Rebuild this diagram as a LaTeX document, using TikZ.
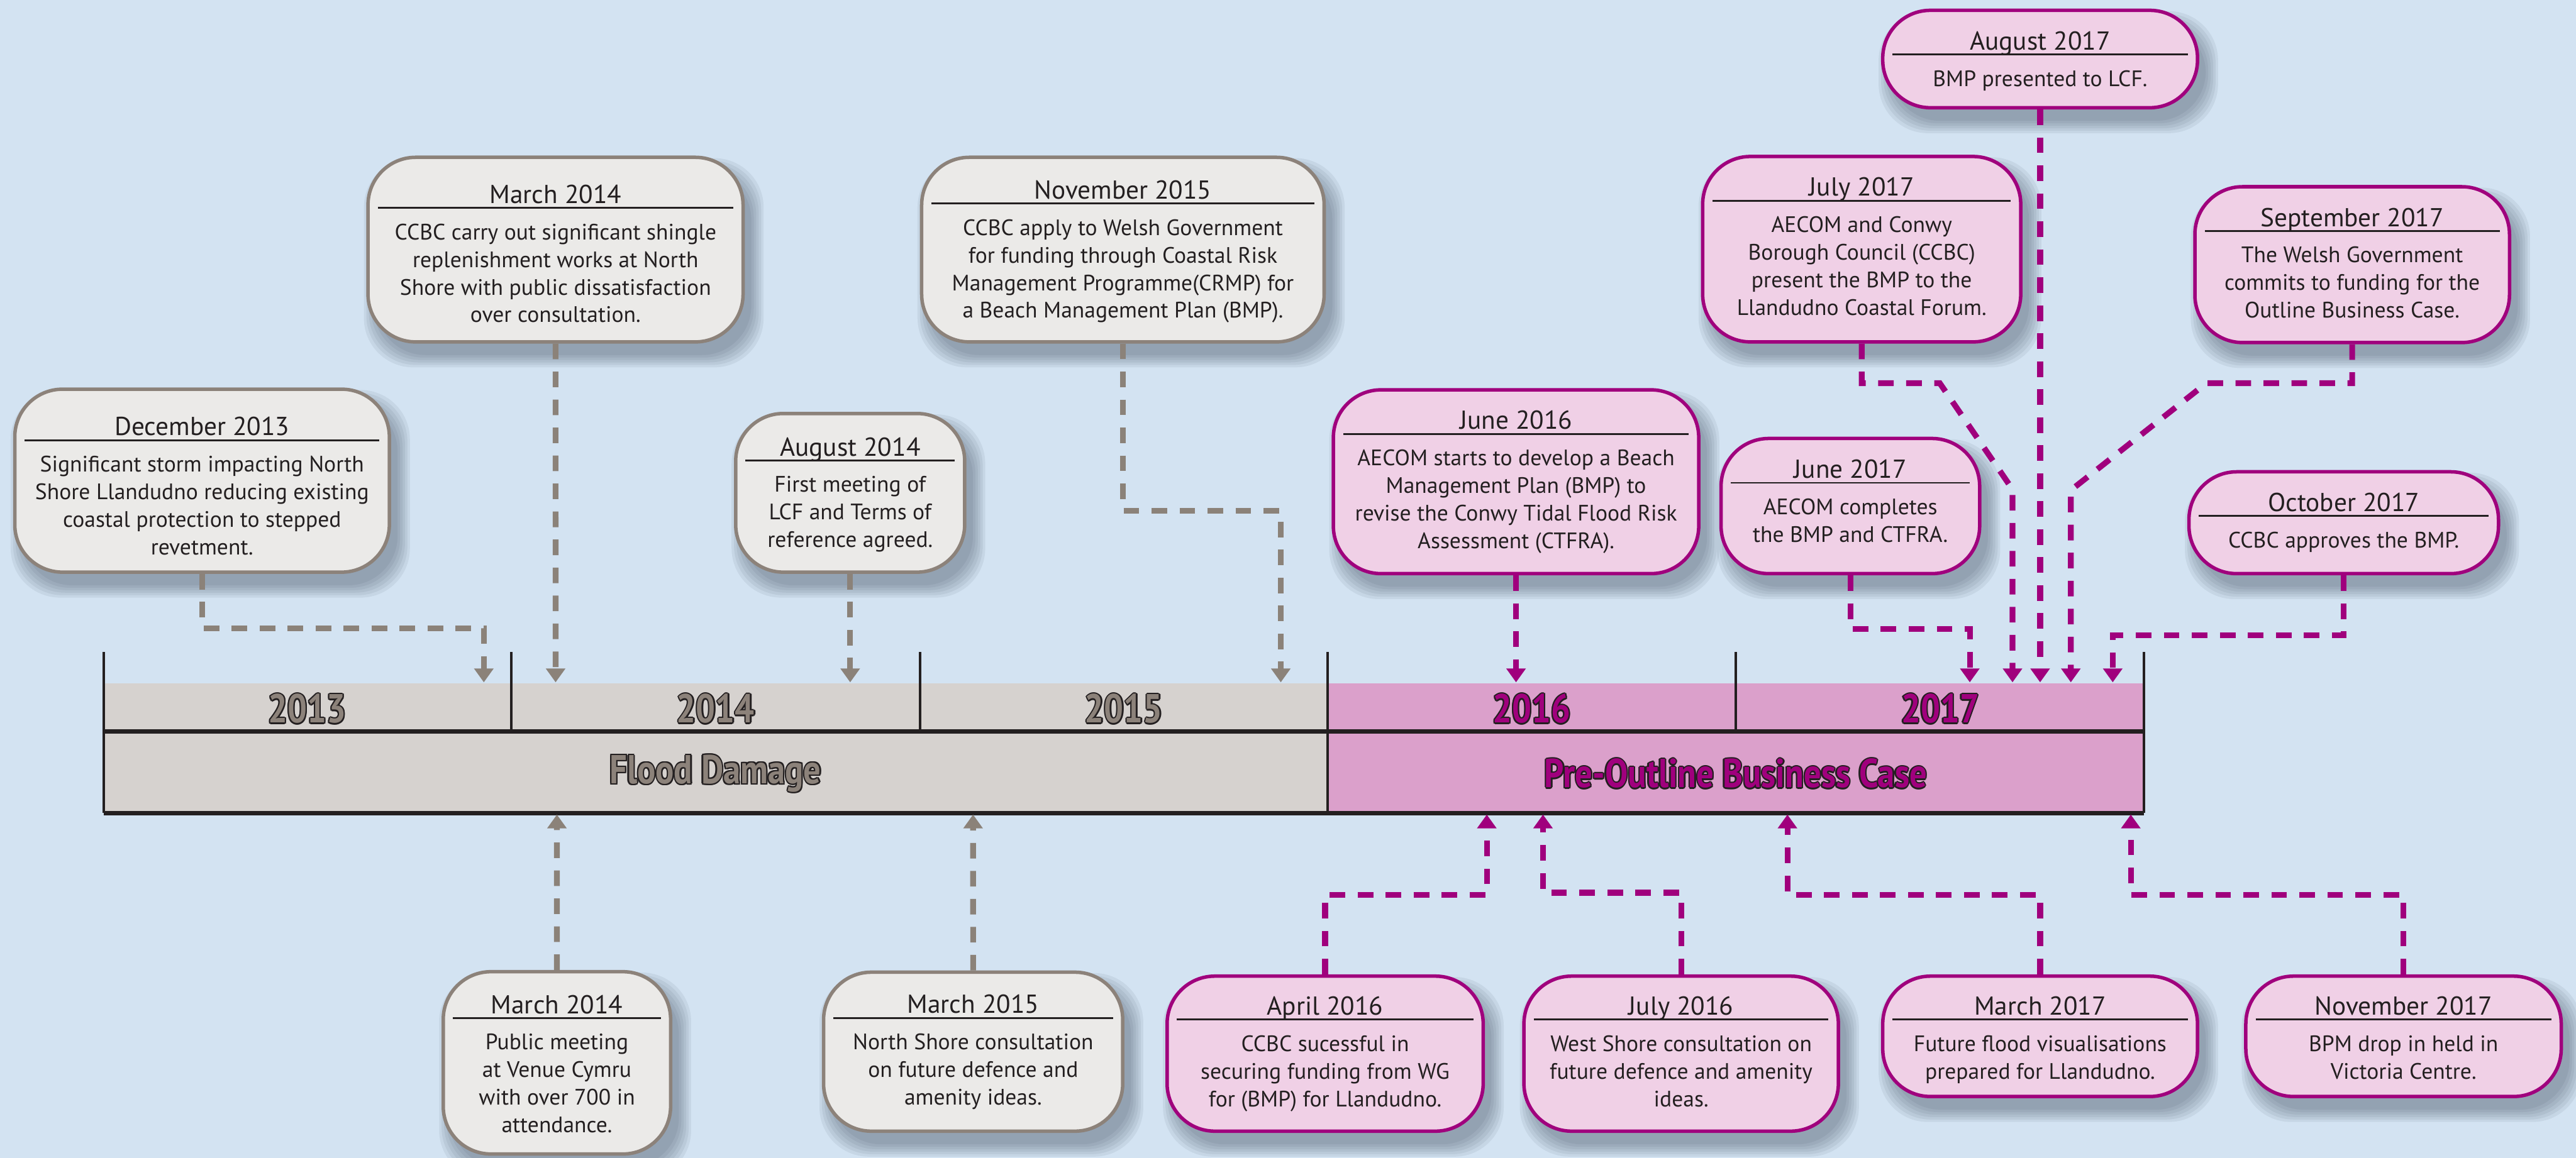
\documentclass[tikz,border=0pt]{standalone}
\usepackage{fontspec}
\setmainfont{PT Sans}
\newfontfamily\yrfont[FakeStretch=0.85]{PT Sans}
\usetikzlibrary{arrows.meta,fit,calc}
\definecolor{bg}{RGB}{211,227,242}
\definecolor{gbar}{RGB}{214,210,207}
\definecolor{pbar}{RGB}{219,160,203}
\definecolor{gfill}{RGB}{235,234,232}
\definecolor{gbord}{RGB}{140,130,122}
\definecolor{pfill}{RGB}{240,208,230}
\definecolor{pbord}{RGB}{160,0,125}
\definecolor{gline}{RGB}{139,130,121}
\definecolor{pline}{RGB}{160,0,125}
\definecolor{txt}{RGB}{35,31,32}
\definecolor{olc}{RGB}{35,31,32}
\definecolor{gtxt}{RGB}{140,130,122}
\definecolor{ptxt}{RGB}{160,0,125}
\definecolor{shd}{RGB}{40,50,70}
\newcommand\otext[2]{%
 \rlap{\hspace*{0.5pt}\textcolor{olc}{#2}}%
 \rlap{\hspace*{-0.5pt}\textcolor{olc}{#2}}%
 \rlap{\raisebox{0.5pt}{\textcolor{olc}{#2}}}%
 \rlap{\raisebox{-0.5pt}{\textcolor{olc}{#2}}}%
 \rlap{\hspace*{0.36pt}\raisebox{0.36pt}{\textcolor{olc}{#2}}}%
 \rlap{\hspace*{-0.36pt}\raisebox{0.36pt}{\textcolor{olc}{#2}}}%
 \rlap{\hspace*{0.36pt}\raisebox{-0.36pt}{\textcolor{olc}{#2}}}%
 \rlap{\hspace*{-0.36pt}\raisebox{-0.36pt}{\textcolor{olc}{#2}}}%
 \textcolor{#1}{#2}}
\tikzset{
 gbox/.style={draw=gbord, fill=gfill, line width=1.2pt, rounded corners=0.58cm, inner sep=0pt},
 pbox/.style={draw=pbord, fill=pfill, line width=1.2pt, rounded corners=0.58cm, inner sep=0pt},
 ttl/.style={font=\fontsize{9}{10}\selectfont, anchor=base, inner sep=0pt, text=txt, yshift=-3.2pt},
 body/.style={font=\fontsize{7.75}{9.56}\selectfont, align=center, anchor=north, inner sep=0pt, text=txt, yshift=3pt},
 rulel/.style={line width=0.65pt, draw=txt},
 gconn/.style={draw=gline, line width=2pt, dash pattern=on 5.4pt off 4.3pt, -{Triangle[width=6.5pt,length=4.8pt]}},
 pconn/.style={draw=pline, line width=2pt, dash pattern=on 5.4pt off 4.3pt, -{Triangle[width=6.5pt,length=4.8pt]}},
 yr/.style={font=\yrfont\bfseries\fontsize{14}{16}\selectfont, inner sep=0pt},
 tline/.style={draw=txt, line width=0.9pt},
 thick line/.style={draw=txt, line width=1.5pt},
}
% name, style, left, top, right, bottom, title offset, title, body
\newcommand\evbox[9]{%
 \foreach \k in {0,...,5}{\fill[shd, opacity=0.07, rounded corners=0.6cm] ({#3+5-1.5*\k},{#4+8-1.5*\k}) rectangle ({#5+5+1.5*\k},{#6+8+1.5*\k});}
 \node[#2, fit={(#3,#4) (#5,#6)}] (#1) {};
 \node[ttl] (#1-t) at ({(#3+#5)/2},{#4+#7}) {#8};
 \draw[rulel] ({#3+6},{#4+#7+8.5}) -- ({#5-6},{#4+#7+8.5});
 \node[body] (#1-b) at ({(#3+#5)/2},{#4+#7+23}) {#9};
}
\begin{document}
\begin{tikzpicture}[x=0.02cm,y=-0.02cm]
\useasboundingbox (0,0) rectangle (1568,705);
\fill[bg] (0,0) rectangle (1568,705);

% timeline
\fill[gbar] (63,416) rectangle (808,495);
\fill[pbar] (808,416) rectangle (1305,495);
\draw[thick line] (63,445.5) -- (1305,445.5);
\draw[thick line] (63,495) -- (1305,495);
\draw[tline] (63,397) -- (63,495);
\draw[tline] (311.3,397) -- (311.3,445.5);
\draw[tline] (560,397) -- (560,445.5);
\draw[tline] (808,397) -- (808,495);
\draw[tline] (1056.6,397) -- (1056.6,445.5);
\draw[tline] (1305,397) -- (1305,495);
\node[yr] (y2013) at (187,431.6) {\otext{gtxt}{2013}};
\node[yr] (y2014) at (435.6,431.6) {\otext{gtxt}{2014}};
\node[yr] (y2015) at (684,431.6) {\otext{gtxt}{2015}};
\node[yr] (y2016) at (932.3,431.6) {\otext{ptxt}{2016}};
\node[yr] (y2017) at (1181,431.6) {\otext{ptxt}{2017}};
\node[yr] (flood) at (435.5,471) {\otext{gtxt}{Flood Damage}};
\node[yr] (preobc) at (1056.5,471) {\otext{ptxt}{Pre-Outline Business Case}};

% arrow targets
\coordinate (a-dec13) at (294.5,415.5);
\coordinate (a-mar14t) at (338.2,415.5);
\coordinate (a-aug14) at (517.5,415.5);
\coordinate (a-nov15) at (779.6,415.5);
\coordinate (a-jun16) at (922.8,415.5);
\coordinate (a-jun17) at (1199,415.5);
\coordinate (a-jul17) at (1225,415.5);
\coordinate (a-aug17) at (1241.8,415.5);
\coordinate (a-sep17) at (1260.5,415.5);
\coordinate (a-oct17) at (1286,415.5);
\coordinate (a-mar14b) at (339,496);
\coordinate (a-mar15) at (592.3,496);
\coordinate (a-apr16) at (905,496);
\coordinate (a-jul16) at (939.2,496);
\coordinate (a-mar17) at (1088,496);
\coordinate (a-nov17) at (1297,496);

% boxes
\evbox{dec13}{gbox}{9}{237}{237}{348.4}{22.5}{December 2013}{Significant storm impacting North\\Shore Llandudno reducing existing\\coastal protection to stepped\\revetment.}
\evbox{mar14t}{gbox}{224}{95.8}{452.3}{208.2}{22.4}{March 2014}{CCBC carry out significant shingle\\replenishment works at North\\Shore with public dissatisfaction\\over consultation.}
\evbox{aug14}{gbox}{447.8}{251.8}{587.2}{348.4}{20.2}{August 2014}{First meeting of\\LCF and Terms of\\reference agreed.}
\evbox{nov15}{gbox}{561}{95.8}{806}{208.2}{19.7}{November 2015}{CCBC apply to Welsh Government\\for funding through Coastal Risk\\Management Programme(CRMP) for\\a Beach Management Plan (BMP).}
\evbox{mar14b}{gbox}{269.8}{591.7}{408.2}{702.7}{19.8}{March 2014}{Public meeting\\at Venue Cymru\\with over 700 in\\attendance.}
\evbox{mar15}{gbox}{501.3}{592}{683.4}{688.8}{19.4}{March 2015}{North Shore consultation\\on future defence and\\amenity ideas.}
\evbox{jun16}{pbox}{811.6}{237.4}{1034}{349.3}{18.4}{June 2016}{AECOM starts to develop a Beach\\Management Plan (BMP) to\\revise the Conwy Tidal Flood Risk\\Assessment (CTFRA).}
\evbox{jun17}{pbox}{1047.6}{267}{1205}{349.3}{18.5}{June 2017}{AECOM completes\\the BMP and CTFRA.}
\evbox{jul17}{pbox}{1036.4}{95.3}{1230}{208.2}{18.4}{July 2017}{AECOM and Conwy\\Borough Council (CCBC)\\present the BMP to the\\Llandudno Coastal Forum.}
\evbox{aug17}{pbox}{1146}{6.3}{1337.6}{65.6}{18.4}{August 2017}{BMP presented to LCF.}
\evbox{sep17}{pbox}{1336}{113.7}{1527.5}{208.6}{18.5}{September 2017}{The Welsh Government\\commits to funding for the\\Outline Business Case.}
\evbox{oct17}{pbox}{1332.4}{287.3}{1520.8}{349.3}{18.4}{October 2017}{CCBC approves the BMP.}
\evbox{apr16}{pbox}{710.4}{594.4}{902.8}{688.8}{18}{April 2016}{CCBC sucessful in\\securing funding from WG\\for (BMP) for Llandudno.}
\evbox{jul16}{pbox}{927.6}{594.4}{1119}{688.8}{18}{July 2016}{West Shore consultation on\\future defence and amenity\\ideas.}
\evbox{mar17}{pbox}{1146}{594.4}{1337.6}{667.7}{18}{March 2017}{Future flood visualisations\\prepared for Llandudno.}
\evbox{nov17}{pbox}{1367}{594.4}{1559}{667.7}{18}{November 2017}{BPM drop in held in\\Victoria Centre.}

% connectors above
\draw[gconn] (dec13.south) |- (294.5,382.6) -- (a-dec13);
\draw[gconn] (mar14t.south) -- (a-mar14t);
\draw[gconn] (aug14.south) -- (a-aug14);
\draw[gconn] (nov15.south) |- (779.6,311.1) -- (a-nov15);
\draw[pconn] (jun16.south) -- (a-jun16);
\draw[pconn] (jun17.south) |- (1199,383) -- (a-jun17);
\draw[pconn] (jul17.south) |- (1180.7,233.3) -- (1225,298) -- (a-jul17);
\draw[pconn] (aug17.south) -- (a-aug17);
\draw[pconn] (sep17.south) |- (1343,233.3) -- (1260.5,298.5) -- (a-sep17);
\draw[pconn] (oct17.south) |- (1286,386.7) -- (a-oct17);
% connectors below
\draw[gconn] (mar14b.north) -- (a-mar14b);
\draw[gconn] (mar15.north) -- (a-mar15);
\draw[pconn] (apr16.north) |- (905,545) -- (a-apr16);
\draw[pconn] (jul16.north) |- (939.2,543.6) -- (a-jul16);
\draw[pconn] (mar17.north) |- (1088,545) -- (a-mar17);
\draw[pconn] (nov17.north) |- (1297,545) -- (a-nov17);
\end{tikzpicture}
\end{document}
